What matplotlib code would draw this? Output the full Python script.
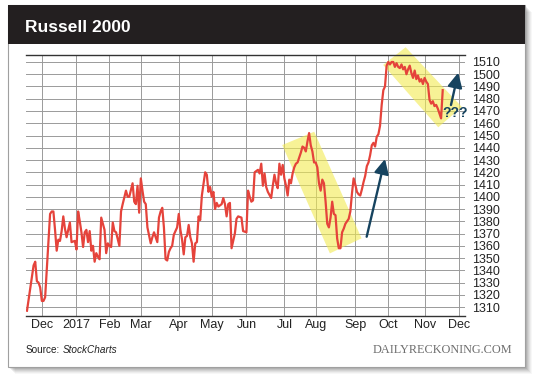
import matplotlib
matplotlib.use("Agg")
import matplotlib.pyplot as plt
from matplotlib.patches import Polygon, Rectangle

plt.rcParams["font.family"] = ["Liberation Sans", "DejaVu Sans"]

# trading-session index (0 = 17 Nov 2016) and index close
SESSIONS = [
    0, 4, 5, 6, 7, 8, 9, 10, 11, 14, 15, 16, 17, 18, 19, 20, 21, 22, 23, 24,
    26, 27, 29, 30, 31, 32, 33, 34, 35, 36, 37, 38, 39, 40, 41, 42, 43, 44, 45, 47,
    48, 49, 50, 51, 52, 53, 54, 56, 57, 58, 60, 61, 62, 64, 65, 66, 67, 68, 69, 70,
    71, 72, 73, 75, 76, 77, 79, 80, 81, 82, 83, 84, 85, 86, 87, 88, 89, 91, 92, 93,
    94, 95, 96, 97, 98, 99, 100, 101, 102, 103, 104, 105, 106, 108, 109, 110, 111, 112, 113, 114,
    115, 116, 118, 119, 120, 121, 122, 123, 124, 126, 127, 128, 130, 131, 133, 134, 135, 136, 137, 138,
    140, 141, 142, 143, 144, 145, 146, 148, 149, 150, 151, 152, 153, 154, 155, 156, 157, 158, 159, 160,
    161, 162, 163, 164, 165, 166, 167, 168, 169, 170, 171, 172, 173, 174, 175, 176, 177, 178, 179, 180,
    181, 182, 183, 184, 185, 186, 187, 188, 189, 190, 191, 192, 193, 195, 196, 197, 198, 199, 200, 201,
    202, 203, 204, 205, 206, 207, 208, 209, 210, 211, 212, 213, 214, 215, 216, 217, 218, 219, 220, 221,
    222, 223, 224, 225, 226, 227, 228, 229, 230, 231, 232, 233, 234, 235, 236, 237, 238, 239, 240, 241,
    242, 243, 244, 245, 246, 247, 248, 249, 250, 251, 252,
]
CLOSES = [
    1307, 1344, 1347, 1331, 1330, 1326, 1315, 1315, 1318, 1386, 1388, 1388, 1373, 1356, 1365, 1364, 1372, 1384, 1374, 1367,
    1379, 1363, 1364, 1357, 1388, 1380, 1371, 1359, 1371, 1373, 1363, 1372, 1356, 1360, 1347, 1354, 1351, 1349, 1383, 1373,
    1354, 1362, 1360, 1359, 1379, 1372, 1371, 1360, 1388, 1394, 1405, 1400, 1400, 1411, 1396, 1394, 1409, 1387, 1415, 1405,
    1396, 1394, 1375, 1362, 1367, 1371, 1363, 1383, 1388, 1391, 1375, 1349, 1348, 1355, 1358, 1360, 1369, 1375, 1386, 1373,
    1365, 1353, 1367, 1368, 1377, 1367, 1362, 1347, 1362, 1363, 1384, 1381, 1401, 1420, 1418, 1404, 1408, 1400, 1404, 1390,
    1395, 1392, 1394, 1399, 1394, 1384, 1394, 1395, 1358, 1370, 1382, 1384, 1383, 1372, 1371, 1405, 1400, 1396, 1397, 1420,
    1422, 1419, 1427, 1409, 1419, 1408, 1404, 1399, 1409, 1418, 1411, 1407, 1427, 1418, 1426, 1415, 1409, 1401, 1414, 1411,
    1419, 1424, 1427, 1428, 1432, 1436, 1441, 1440, 1437, 1445, 1452, 1442, 1437, 1428, 1428, 1424, 1411, 1405, 1414, 1411,
    1396, 1378, 1375, 1383, 1396, 1386, 1385, 1366, 1358, 1358, 1371, 1374, 1378, 1382, 1388, 1403, 1415, 1410, 1404, 1402,
    1401, 1406, 1412, 1417, 1425, 1428, 1434, 1442, 1444, 1441, 1449, 1451, 1458, 1475, 1487, 1490, 1507, 1510, 1508, 1510,
    1510, 1506, 1509, 1506, 1505, 1508, 1504, 1506, 1500, 1504, 1507, 1501, 1497, 1503, 1496, 1499, 1494, 1496, 1492, 1497,
    1494, 1492, 1479, 1476, 1478, 1474, 1475, 1472, 1468, 1464, 1487,
]
MONTH_TICKS = [9, 30, 50, 69, 92, 112, 133, 156, 175, 199, 219, 241, 262]
MONTH_LABELS = ["Dec", "2017", "Feb", "Mar", "Apr", "May", "Jun",
                "Jul", "Aug", "Sep", "Oct", "Nov", "Dec"]
PRICE_TICKS = list(range(1310, 1511, 10))

RED = "#e5433b"
NAVY = "#16435f"
YELLOW = "#f2ea50"

W, H = 540, 379
fig = plt.figure(figsize=(W / 100, H / 100), dpi=100)

# card, header and footer drawn in pixel space
bg = fig.add_axes([0, 0, 1, 1])
bg.set_xlim(0, W)
bg.set_ylim(H, 0)
bg.axis("off")
for off, a in [(7, 0.03), (6, 0.04), (5, 0.05), (4, 0.06), (3, 0.07), (2, 0.08)]:
    bg.add_patch(Rectangle((7.5 + off, 4.7 + off), 517.5, 362, color="black", alpha=a, lw=0))
bg.add_patch(Rectangle((7.5, 4.7), 517.5, 362, facecolor="white", edgecolor="#a0a0a0", lw=0.8))
bg.add_patch(Rectangle((7.5, 4.7), 517.5, 39.3, facecolor="#231f20", lw=0))
bg.text(25, 32.3, "Russell 2000", color="white", fontsize=12.5, fontweight="bold", va="baseline")
src = bg.text(25.7, 353.3, "Source:", fontsize=7.2, color="#222222", va="baseline")
bg.annotate("StockCharts", xy=(1, 0), xycoords=src, xytext=(2, 0), textcoords="offset points",
            fontsize=7.2, style="italic", color="#222222", va="bottom")
bg.text(512, 353.3, "DAILYRECKONING.COM", family=["Liberation Serif", "DejaVu Serif"],
        fontsize=8.8, color="#6e6e6e", ha="right", va="baseline")

ax = fig.add_axes([26 / W, (H - 316) / H, 439 / W, 261 / H])
ax.set_xlim(-0.6, 265.5)
ax.set_ylim(1302.7, 1515.7)
ax.set_xticks(MONTH_TICKS)
ax.set_xticklabels(MONTH_LABELS)
ax.set_yticks(PRICE_TICKS)
ax.yaxis.tick_right()
ax.tick_params(axis="y", length=0, pad=5, labelsize=9, labelcolor="#222222")
ax.tick_params(axis="x", length=0, pad=2.5, labelsize=9, labelcolor="#222222")
for side in ("left", "right"):
    ax.spines[side].set_visible(False)
for side in ("top", "bottom"):
    ax.spines[side].set_color("#333333")
    ax.spines[side].set_linewidth(1.0)
ax.set_axisbelow(True)
ax.grid(True, color="#9a9a9a", lw=0.7)
ax.patch.set_alpha(0)

# highlight boxes (session, price corners)
ax.add_patch(Polygon([(154.7, 1442.2), (174.1, 1453.1), (202.8, 1366.1), (183.6, 1353.8)],
                     closed=True, facecolor=YELLOW, alpha=0.6, lw=0, zorder=2, clip_on=False))
ax.add_patch(Polygon([(215.9, 1507.6), (229.5, 1522.0), (263.6, 1473.3), (249.3, 1456.7)],
                     closed=True, facecolor=YELLOW, alpha=0.6, lw=0, zorder=2, clip_on=False))

ax.plot(SESSIONS, CLOSES, color=RED, lw=1.6, zorder=3, solid_joinstyle="round")

arrow = dict(arrowstyle="-|>,head_length=0.4,head_width=0.2", mutation_scale=22,
             color=NAVY, lw=1.7, shrinkA=0, shrinkB=0)
ax.annotate("", xy=(217.0, 1430.8), xytext=(205.9, 1367.4), arrowprops=arrow, zorder=4)
ax.annotate("", xy=(261.4, 1501.3), xytext=(257.0, 1474.9), arrowprops=arrow, zorder=4)
ax.text(259.6, 1468.4, "???", color=NAVY, fontsize=10, fontweight="bold",
        ha="center", va="center", zorder=5)

fig.savefig("out.png", dpi=100)
